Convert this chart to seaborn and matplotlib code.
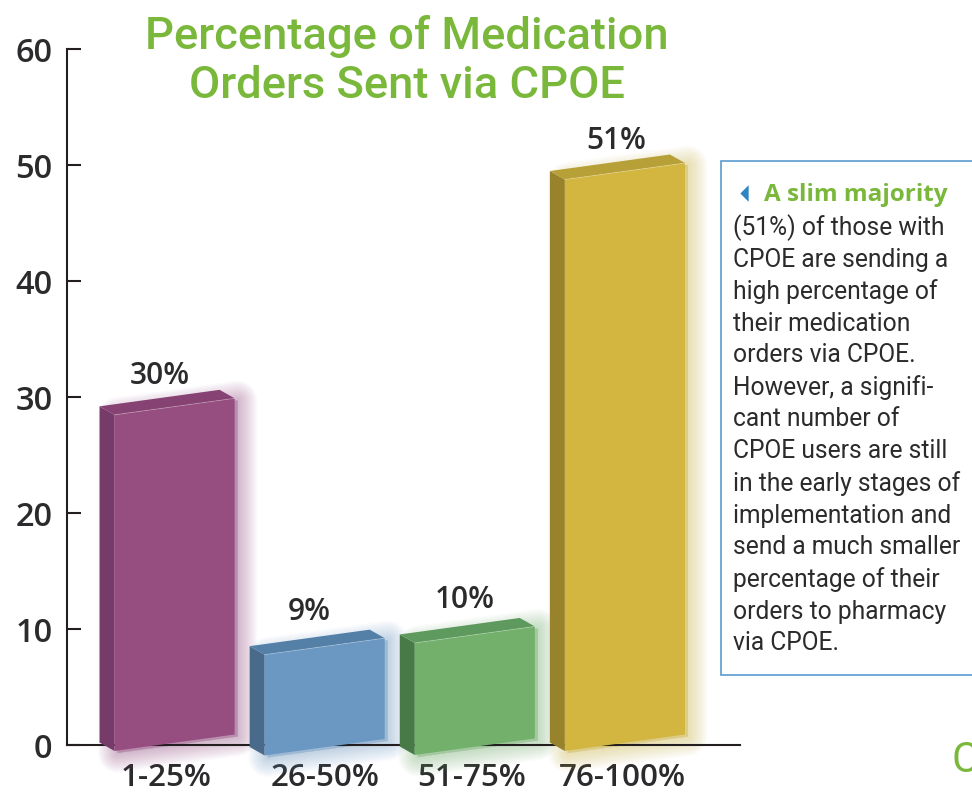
import matplotlib
matplotlib.use("Agg")
import matplotlib.pyplot as plt
from matplotlib.lines import Line2D
from matplotlib.patches import Polygon, Rectangle
from matplotlib.transforms import Affine2D, ScaledTranslation
import pandas as pd
import seaborn as sns

categories = ["1-25%", "26-50%", "51-75%", "76-100%"]
percentages = [30, 9, 10, 51]
value_labels = ["30%", "9%", "10%", "51%"]
y_ticks = [0, 10, 20, 30, 40, 50, 60]
title_text = "Percentage of Medication\nOrders Sent via CPOE"
note_head = "A slim majority"
note_lines = ["(51%) of those with", "CPOE are sending a", "high percentage of",
              "their medication", "orders via CPOE.", "However, a signifi-",
              "cant number of", "CPOE users are still", "in the early stages of",
              "implementation and", "send a much smaller", "percentage of their",
              "orders to pharmacy", "via CPOE."]

front_colors = ["#964D80", "#6A98C3", "#72B06C", "#D2B640"]
side_colors = ["#763B68", "#4A6A8C", "#487A48", "#98832C"]
top_colors = ["#854272", "#5480A8", "#5E9A5E", "#B8A038"]
GREEN = "#7AB83C"
INK = "#2B2A2C"
W, H = 972, 792

sns.set_theme(style="white")
plt.rcParams["font.family"] = ["Open Sans", "DejaVu Sans"]

fig = plt.figure(figsize=(W / 100, H / 100), dpi=100, facecolor="white")
ax = fig.add_axes([66.5 / W, 1 - 745 / H, (740 - 66.5) / W, (745 - 49) / H])
df = pd.DataFrame({"range": categories, "pct": percentages})
sns.barplot(data=df, x="range", y="pct", hue="range", palette=front_colors,
            width=0.8, legend=False, ax=ax, saturation=1)
ax.set_xlim((67 - 175) / 150, (740 - 175) / 150)
ax.set_ylim(0, 60)
ax.set_xlabel("")
ax.set_ylabel("")

PX_X, PX_Y = 1 / 150, 60 / 696
scale = 0.966
slope = (16.5 * PX_Y) / (120 * PX_X)
drops = [6, 10.5, 10, 6]
depth_x, depth_y = -15 * PX_X, 8.5 * PX_Y

for i, bar in enumerate(list(ax.patches)):
    x0, w, v = bar.get_x(), bar.get_width(), bar.get_height()
    d = -drops[i] * PX_Y

    def pt(x, val):
        return (x, scale * val + slope * (x - x0) + d)

    bl, br, tr, tl = pt(x0, 0), pt(x0 + w, 0), pt(x0 + w, v), pt(x0, v)
    bar.set_transform(Affine2D.from_values(1, slope, 0, scale, 0, d - slope * x0) + ax.transData)
    bar.set_linewidth(0)
    bar.set_zorder(3.2)
    bar.set_clip_on(False)

    shift = (3 * PX_X, -2 * PX_Y)
    for lw in range(2, 29, 2):
        ax.add_patch(Polygon([(p[0] + shift[0], p[1] + shift[1]) for p in (bl, br, tr, tl)],
                             closed=True, fc=front_colors[i], ec=front_colors[i], lw=lw,
                             alpha=0.03, joinstyle="round", zorder=1, clip_on=False))
    back = lambda p: (p[0] + depth_x, p[1] + depth_y)
    ax.add_patch(Polygon([bl, tl, back(tl), back(bl)], closed=True, fc=side_colors[i],
                         lw=0, zorder=3.1, clip_on=False))
    ax.add_patch(Polygon([tl, tr, back(tr), back(tl)], closed=True, fc=top_colors[i],
                         lw=0, zorder=3.1, clip_on=False))
    ax.plot([tl[0], tr[0]], [tl[1], tr[1]], color="white", alpha=0.3, lw=0.6, zorder=3.3)

label_dx = [-0.10, -0.10, -0.067, -0.06]
for i, (v, s) in enumerate(zip(percentages, value_labels)):
    ax.text(i + label_dx[i], scale * v + 2.8, s, ha="center", va="center",
            fontsize=21.5, fontweight=600, color=INK, zorder=5)

sns.despine(ax=ax)
for side in ("left", "bottom"):
    ax.spines[side].set_linewidth(1.5)
    ax.spines[side].set_color("#231F20")
    ax.spines[side].set_zorder(2)
ax.set_yticks(y_ticks)
ax.tick_params(axis="y", left=True, direction="in", length=10, width=1.5, color="#231F20",
               pad=10, labelsize=23.5, labelcolor=INK)
ax.tick_params(axis="x", bottom=False, length=0, pad=13, labelsize=22.6, labelcolor=INK)
for t in ax.get_xticklabels() + ax.get_yticklabels():
    t.set_fontweight(600)
x_shift_px = [-9, 0, -3, -3]
for t, dx in zip(ax.get_xticklabels(), x_shift_px):
    t.set_transform(t.get_transform() + ScaledTranslation(dx / 100, 0, fig.dpi_scale_trans))

fig.text(407 / W, 1 - 61 / H, title_text, ha="center", va="center", fontsize=32.7,
         family="Roboto", color=GREEN, linespacing=1.2, fontweight="medium")

fig.add_artist(Rectangle((721 / W, 1 - 675 / H), 260 / W, 514 / H, transform=fig.transFigure,
                         fc="white", ec="#5B9BD0", lw=1.2))
fig.text(764 / W, 1 - 195 / H, note_head, ha="left", va="center", fontsize=17.5,
         fontweight="bold", color=GREEN, family="Open Sans")
fig.add_artist(Line2D([744 / W], [1 - 193 / H], marker=[(-0.5, 0), (0.5, 1), (0.5, -1)], ms=12,
                      color="#2E86C1", mew=0, transform=fig.transFigure, ls="none", zorder=3))
for n, line in enumerate(note_lines):
    fig.text(733 / W, 1 - (227.5 + 32 * n) / H, line, ha="left", va="center",
             fontsize=17.7, color=INK, family="Roboto")
fig.text(951 / W, 1 - 760 / H, "C", ha="left", va="center", fontsize=30,
         color=GREEN, family="Roboto")

fig.savefig("out.png", dpi=100)
